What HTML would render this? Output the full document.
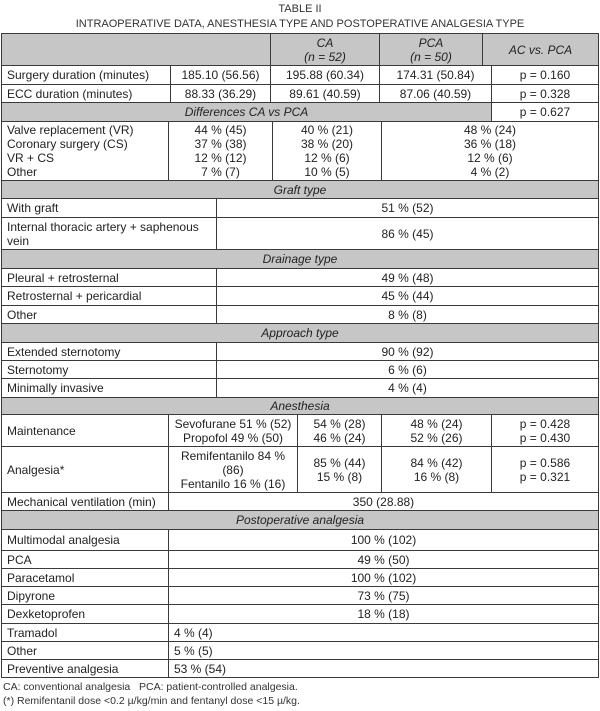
<!DOCTYPE html>
<html><head><meta charset="utf-8"><style>
body{margin:0;width:600px;height:711px;background:#fff;position:relative;overflow:hidden;font-family:"Liberation Sans",sans-serif;color:#222}
.c{position:absolute;box-sizing:border-box;border:1px solid #3a3a3a;display:flex;align-items:center;justify-content:center;text-align:center;font-size:12px;line-height:14px;background:#fff}
.l{justify-content:flex-start;text-align:left;padding-left:5px}
.g{background:#c6c6c6;font-style:italic}
.t{position:absolute;left:0;width:600px;text-align:center;font-size:11px;color:#333}
.f{position:absolute;left:3px;font-size:10.5px;color:#333}
</style></head><body>
<div class="t" style="top:3px">TABLE II</div>
<div class="t" style="top:18px">INTRAOPERATIVE DATA, ANESTHESIA TYPE AND POSTOPERATIVE ANALGESIA TYPE</div>

<div class="c g" style="left:1px;top:33px;width:270px;height:33px"></div>
<div class="c g" style="left:270px;top:33px;width:110px;height:33px">CA<br>(n = 52)</div>
<div class="c g" style="left:379px;top:33px;width:104px;height:33px">PCA<br>(n = 50)</div>
<div class="c g" style="left:482px;top:33px;width:117px;height:33px">AC vs. PCA</div>

<div class="c l" style="left:1px;top:65px;width:170px;height:20px">Surgery duration (minutes)</div>
<div class="c" style="left:170px;top:65px;width:101px;height:20px">185.10 (56.56)</div>
<div class="c" style="left:270px;top:65px;width:110px;height:20px">195.88 (60.34)</div>
<div class="c" style="left:379px;top:65px;width:113px;height:20px">174.31 (50.84)</div>
<div class="c" style="left:491px;top:65px;width:108px;height:20px">p = 0.160</div>

<div class="c l" style="left:1px;top:84px;width:170px;height:19px">ECC duration (minutes)</div>
<div class="c" style="left:170px;top:84px;width:101px;height:19px">88.33 (36.29)</div>
<div class="c" style="left:270px;top:84px;width:110px;height:19px">89.61 (40.59)</div>
<div class="c" style="left:379px;top:84px;width:113px;height:19px">87.06 (40.59)</div>
<div class="c" style="left:491px;top:84px;width:108px;height:19px">p = 0.328</div>

<div class="c g" style="left:1px;top:102px;width:491px;height:20px">Differences CA vs PCA</div>
<div class="c" style="left:491px;top:102px;width:108px;height:20px">p = 0.627</div>

<div class="c l" style="left:1px;top:121px;width:168px;height:60px">Valve replacement (VR)<br>Coronary surgery (CS)<br>VR + CS<br>Other</div>
<div class="c" style="left:168px;top:121px;width:105px;height:60px">44 % (45)<br>37 % (38)<br>12 % (12)<br>7 % (7)</div>
<div class="c" style="left:272px;top:121px;width:110px;height:60px">40 % (21)<br>38 % (20)<br>12 % (6)<br>10 % (5)</div>
<div class="c" style="left:381px;top:121px;width:218px;height:60px">48 % (24)<br>36 % (18)<br>12 % (6)<br>4 % (2)</div>

<div class="c g" style="left:1px;top:180px;width:598px;height:19px">Graft type</div>
<div class="c l" style="left:1px;top:198px;width:216px;height:20px">With graft</div>
<div class="c" style="left:216px;top:198px;width:383px;height:20px">51 % (52)</div>
<div class="c l" style="left:1px;top:217px;width:216px;height:33px">Internal thoracic artery + saphenous<br>vein</div>
<div class="c" style="left:216px;top:217px;width:383px;height:33px">86 % (45)</div>

<div class="c g" style="left:1px;top:249px;width:598px;height:20px">Drainage type</div>
<div class="c l" style="left:1px;top:268px;width:216px;height:19px">Pleural + retrosternal</div>
<div class="c" style="left:216px;top:268px;width:383px;height:19px">49 % (48)</div>
<div class="c l" style="left:1px;top:286px;width:216px;height:20px">Retrosternal + pericardial</div>
<div class="c" style="left:216px;top:286px;width:383px;height:20px">45 % (44)</div>
<div class="c l" style="left:1px;top:305px;width:216px;height:19px">Other</div>
<div class="c" style="left:216px;top:305px;width:383px;height:19px">8 % (8)</div>

<div class="c g" style="left:1px;top:323px;width:598px;height:20px">Approach type</div>
<div class="c l" style="left:1px;top:342px;width:216px;height:19px">Extended sternotomy</div>
<div class="c" style="left:216px;top:342px;width:383px;height:19px">90 % (92)</div>
<div class="c l" style="left:1px;top:360px;width:216px;height:19px">Sternotomy</div>
<div class="c" style="left:216px;top:360px;width:383px;height:19px">6 % (6)</div>
<div class="c l" style="left:1px;top:378px;width:216px;height:20px">Minimally invasive</div>
<div class="c" style="left:216px;top:378px;width:383px;height:20px">4 % (4)</div>

<div class="c g" style="left:1px;top:397px;width:598px;height:18px">Anesthesia</div>
<div class="c l" style="left:1px;top:414px;width:168px;height:33px">Maintenance</div>
<div class="c" style="left:168px;top:414px;width:130px;height:33px">Sevofurane 51 % (52)<br>Propofol 49 % (50)</div>
<div class="c" style="left:297px;top:414px;width:85px;height:33px">54 % (28)<br>46 % (24)</div>
<div class="c" style="left:381px;top:414px;width:111px;height:33px">48 % (24)<br>52 % (26)</div>
<div class="c" style="left:491px;top:414px;width:108px;height:33px">p = 0.428<br>p = 0.430</div>

<div class="c l" style="left:1px;top:446px;width:168px;height:47px">Analgesia*</div>
<div class="c" style="left:168px;top:446px;width:130px;height:47px">Remifentanilo 84 %<br>(86)<br>Fentanilo 16 % (16)</div>
<div class="c" style="left:297px;top:446px;width:85px;height:47px">85 % (44)<br>15 % (8)</div>
<div class="c" style="left:381px;top:446px;width:111px;height:47px">84 % (42)<br>16 % (8)</div>
<div class="c" style="left:491px;top:446px;width:108px;height:47px">p = 0.586<br>p = 0.321</div>

<div class="c l" style="left:1px;top:492px;width:168px;height:19px">Mechanical ventilation (min)</div>
<div class="c" style="left:168px;top:492px;width:431px;height:19px">350 (28.88)</div>

<div class="c g" style="left:1px;top:510px;width:598px;height:20px">Postoperative analgesia</div>
<div class="c l" style="left:1px;top:529px;width:168px;height:22px">Multimodal analgesia</div>
<div class="c" style="left:168px;top:529px;width:431px;height:22px">100 % (102)</div>
<div class="c l" style="left:1px;top:550px;width:168px;height:19px">PCA</div>
<div class="c" style="left:168px;top:550px;width:431px;height:19px">49 % (50)</div>
<div class="c l" style="left:1px;top:568px;width:168px;height:19px">Paracetamol</div>
<div class="c" style="left:168px;top:568px;width:431px;height:19px">100 % (102)</div>
<div class="c l" style="left:1px;top:586px;width:168px;height:19px">Dipyrone</div>
<div class="c" style="left:168px;top:586px;width:431px;height:19px">73 % (75)</div>
<div class="c l" style="left:1px;top:604px;width:168px;height:20px">Dexketoprofen</div>
<div class="c" style="left:168px;top:604px;width:431px;height:20px">18 % (18)</div>
<div class="c l" style="left:1px;top:623px;width:168px;height:19px">Tramadol</div>
<div class="c l" style="left:168px;top:623px;width:431px;height:19px">4 % (4)</div>
<div class="c l" style="left:1px;top:641px;width:168px;height:19px">Other</div>
<div class="c l" style="left:168px;top:641px;width:431px;height:19px">5 % (5)</div>
<div class="c l" style="left:1px;top:659px;width:168px;height:19px">Preventive analgesia</div>
<div class="c l" style="left:168px;top:659px;width:431px;height:19px">53 % (54)</div>

<div class="f" style="top:681px">CA: conventional analgesia&nbsp;&nbsp; PCA: patient-controlled analgesia.</div>
<div class="f" style="top:695px">(*) Remifentanil dose &lt;0.2 µ/kg/min and fentanyl dose &lt;15 µ/kg.</div>
</body></html>
